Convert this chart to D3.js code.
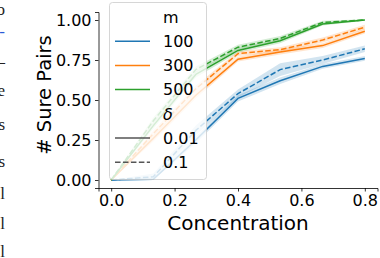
<!DOCTYPE html>
<html>
<head>
<meta charset="utf-8">
<script src="https://cdn.jsdelivr.net/npm/d3@7/dist/d3.min.js"></script>
<style>
  html, body { margin: 0; padding: 0; background: #fff; }
  svg { display: block; }
  text { font-family: "DejaVu Sans", sans-serif; }
</style>
</head>
<body>
<svg id="chart" width="380" height="258"></svg>
<script>
// concentration values on the x axis
const concentration = [0, 0.133, 0.267, 0.4, 0.533, 0.667, 0.8];

// mean share of sure pairs, one array per (m, delta)
const m100d001 = [0, 0.005, 0.25, 0.51, 0.62, 0.71, 0.76];
const m100d01  = [0, 0.02, 0.31, 0.54, 0.69, 0.75, 0.82];
const m300d001 = [0, 0.26, 0.53, 0.755, 0.80, 0.84, 0.93];
const m300d01  = [0, 0.29, 0.57, 0.79, 0.815, 0.875, 0.955];
const m500d001 = [0, 0.34, 0.66, 0.81, 0.87, 0.975, 1.0];
const m500d01  = [0, 0.37, 0.69, 0.83, 0.885, 0.985, 1.0];

// half width of the confidence band
const ci100d001 = [0, 0.005, 0.02, 0.02, 0.02, 0.015, 0.015];
const ci100d01  = [0, 0.02, 0.03, 0.025, 0.04, 0.025, 0.02];
const ci300d001 = [0, 0.02, 0.02, 0.015, 0.015, 0.015, 0.015];
const ci300d01  = [0, 0.02, 0.02, 0.015, 0.015, 0.015, 0.015];
const ci500d001 = [0, 0.02, 0.02, 0.015, 0.015, 0.01, 0.005];
const ci500d01  = [0, 0.02, 0.02, 0.015, 0.015, 0.01, 0.005];

const mLevels = ['100', '300', '500'];
const deltaLevels = ['0.01', '0.1'];
const xTicks = [0, 0.2, 0.4, 0.6, 0.8];
const yTicks = [0, 0.25, 0.5, 0.75, 1];

const colors = { '100': '#1f77b4', '300': '#ff7f0e', '500': '#2ca02c' },
    dashes = { '0.01': null, '0.1': '5.55,2.4' };

const series = [
    { m: '100', d: '0.01', v: m100d001, ci: ci100d001 },
    { m: '100', d: '0.1', v: m100d01, ci: ci100d01 },
    { m: '300', d: '0.01', v: m300d001, ci: ci300d001 },
    { m: '300', d: '0.1', v: m300d01, ci: ci300d01 },
    { m: '500', d: '0.01', v: m500d001, ci: ci500d001 },
    { m: '500', d: '0.1', v: m500d01, ci: ci500d01 }
];

const svg = d3.select('#chart'),
    plotLeft = 98.5, plotRight = 377.5, plotTop = 12, plotBottom = 188;

const x = d3.scaleLinear().domain([-0.04, 0.84]).range([plotLeft, plotRight]),
    y = d3.scaleLinear().domain([-0.05, 1.05]).range([plotBottom, plotTop]);

// cut-off text from the neighbouring column
const fragments = [
    { t: 'o', y: 15, c: '#222' }, { t: '-', y: 37, c: '#2a5bd7' },
    { t: '–', y: 67, c: '#222' }, { t: 'e', y: 96, c: '#222' },
    { t: 's', y: 130, c: '#222' }, { t: 's', y: 167, c: '#222' },
    { t: 'l', y: 199, c: '#222' }, { t: 'l', y: 229, c: '#222' },
    { t: 'l', y: 257, c: '#222' }
];
svg.selectAll('text.frag')
    .data(fragments)
    .join('text')
    .attr('class', 'frag')
    .attr('x', 5)
    .attr('y', d => d.y)
    .attr('text-anchor', 'end')
    .style('font-family', '"Liberation Serif", serif')
    .style('font-size', '17px')
    .attr('fill', d => d.c)
    .text(d => d.t);

const area = d3.area()
    .x((d, i) => x(concentration[i]))
    .y0(d => y(d.lo))
    .y1(d => y(d.hi));

const line = d3.line()
    .x((d, i) => x(concentration[i]))
    .y(d => y(d));

const plot = svg.append('g');

plot.selectAll('path.band')
    .data(series)
    .join('path')
    .attr('class', 'band')
    .attr('d', s => area(s.v.map((v, i) => ({ lo: v - s.ci[i], hi: v + s.ci[i] }))))
    .attr('fill', s => colors[s.m])
    .attr('fill-opacity', 0.2)
    .attr('stroke', 'none');

plot.selectAll('path.line')
    .data(series)
    .join('path')
    .attr('class', 'line')
    .attr('d', s => line(s.v))
    .attr('fill', 'none')
    .attr('stroke', s => colors[s.m])
    .attr('stroke-width', 1.5)
    .attr('stroke-dasharray', s => dashes[s.d]);

// axes
const xAxis = svg.append('g')
    .attr('transform', 'translate(0,' + plotBottom + ')')
    .call(d3.axisBottom(x).tickValues(xTicks).tickFormat(d3.format('.1f')).tickSizeOuter(0).tickSize(3.5).tickPadding(3.5));

const yAxis = svg.append('g')
    .attr('transform', 'translate(' + plotLeft + ',0)')
    .call(d3.axisLeft(y).tickValues(yTicks).tickFormat(d3.format('.2f')).tickSizeOuter(0).tickSize(3.5).tickPadding(3.5));

[xAxis, yAxis].forEach(a => {
    a.selectAll('text').style('font-size', '16px').attr('fill', '#000');
    a.selectAll('line').attr('stroke', '#000').attr('stroke-width', 0.8);
    a.select('.domain').attr('stroke', '#000').attr('stroke-width', 0.8);
});
yAxis.selectAll('text').attr('dy', '0.36em');

svg.append('text')
    .attr('x', (plotLeft + plotRight) / 2)
    .attr('y', 230)
    .attr('text-anchor', 'middle')
    .style('font-size', '20px')
    .text('Concentration');

svg.append('text')
    .attr('transform', 'translate(51,95) rotate(-90)')
    .attr('text-anchor', 'middle')
    .style('font-size', '19.5px')
    .text('# Sure Pairs');

// legend
const legend = svg.append('g');
legend.append('rect')
    .attr('x', 109.5).attr('y', 2.5)
    .attr('width', 97).attr('height', 177)
    .attr('rx', 3)
    .attr('fill', '#fff').attr('fill-opacity', 0.8)
    .attr('stroke', '#cccccc').attr('stroke-width', 0.8);

const entries = [{ label: 'm', title: true }]
    .concat(mLevels.map(m => ({ label: m, color: colors[m], dash: null })))
    .concat([{ label: 'δ', title: true }])
    .concat(deltaLevels.map(d => ({ label: d, color: '#555', dash: dashes[d] })));

const rows = legend.selectAll('g.entry')
    .data(entries)
    .join('g')
    .attr('class', 'entry')
    .attr('transform', (d, i) => 'translate(0,' + (17 + i * 24.2) + ')');

rows.filter(d => !d.title).append('line')
    .attr('x1', 115).attr('x2', 150)
    .attr('stroke', d => d.color)
    .attr('stroke-width', 1.5)
    .attr('stroke-dasharray', d => d.dash);

rows.append('text')
    .attr('x', 163)
    .attr('dy', '0.36em')
    .style('font-size', '16px')
    .style('font-style', d => d.label === 'δ' ? 'italic' : null)
    .text(d => d.label);
</script>
</body>
</html>
